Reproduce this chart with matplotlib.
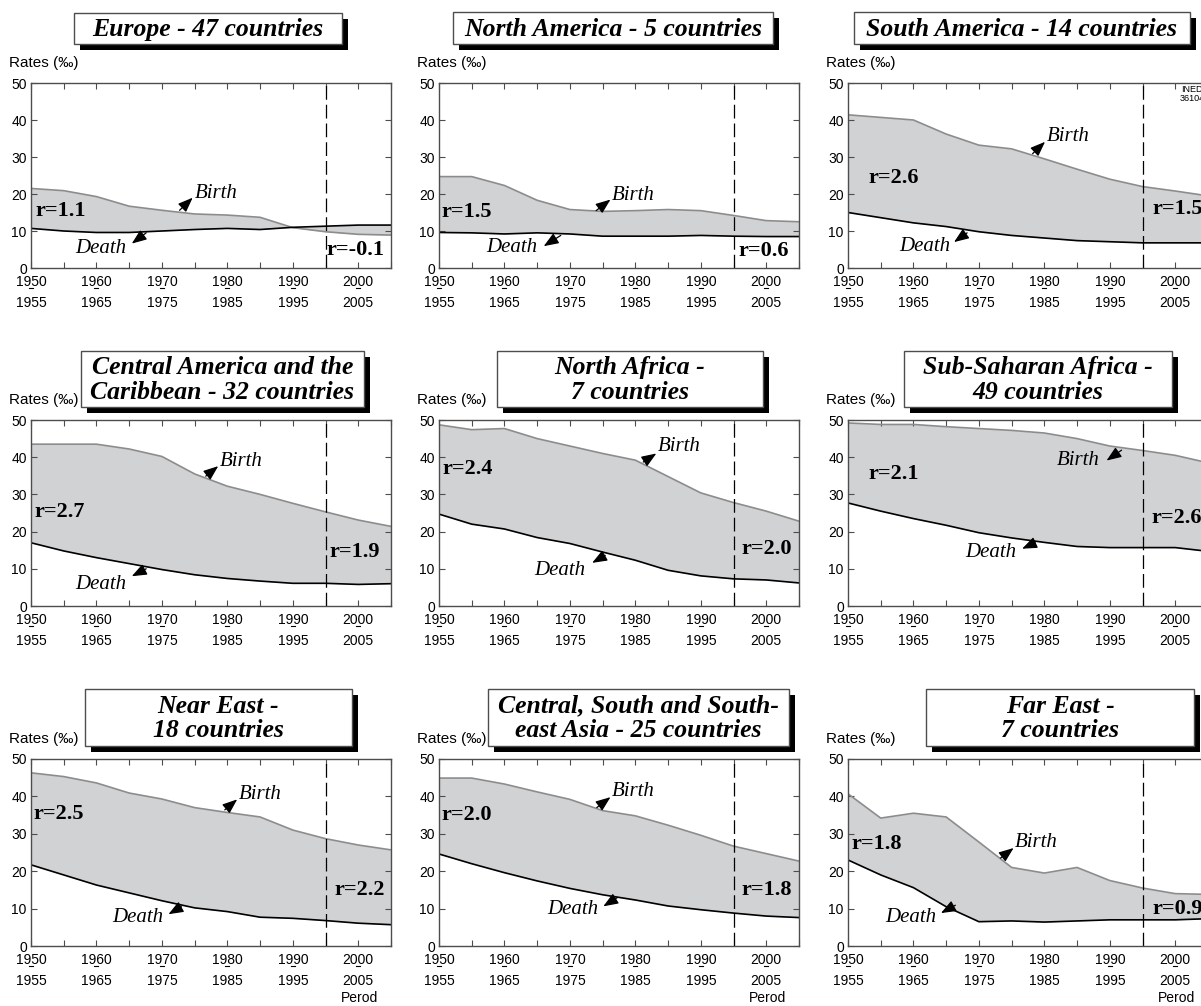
import matplotlib
matplotlib.use("Agg")
import matplotlib.pyplot as plt
from matplotlib.patches import Rectangle
from matplotlib.lines import Line2D

# 5-year periods, 1950-1955 ... 2005-2010 (first year shown on axis)
years = [1950, 1955, 1960, 1965, 1970, 1975, 1980, 1985, 1990, 1995, 2000, 2005]
tick_years = [1950, 1960, 1970, 1980, 1990, 2000]
tick_top = ["1950", "1960", "1970", "1980", "1990", "2000"]
tick_bottom = ["1955", "1965", "1975", "1985", "1995", "2005"]

europe_birth = [21.5, 20.9, 19.3, 16.7, 15.6, 14.6, 14.3, 13.7, 10.9, 9.8, 9.1, 8.9]
europe_death = [10.7, 10.0, 9.6, 9.6, 10.0, 10.4, 10.7, 10.4, 11.0, 11.3, 11.6, 11.6]

namerica_birth = [24.7, 24.7, 22.3, 18.3, 15.8, 15.3, 15.5, 15.8, 15.5, 14.2, 12.8, 12.5]
namerica_death = [9.6, 9.5, 9.2, 9.5, 9.2, 8.6, 8.6, 8.6, 8.8, 8.6, 8.5, 8.5]

samerica_birth = [41.4, 40.7, 40.0, 36.2, 33.2, 32.2, 29.5, 26.7, 24.0, 22.0, 20.8, 19.5]
samerica_death = [15.0, 13.6, 12.2, 11.2, 9.8, 8.8, 8.1, 7.4, 7.1, 6.8, 6.8, 6.8]

camerica_birth = [43.5, 43.5, 43.5, 42.2, 40.2, 35.5, 32.2, 30.0, 27.6, 25.3, 23.1, 21.4]
camerica_death = [17.0, 14.8, 13.0, 11.4, 9.8, 8.4, 7.4, 6.7, 6.1, 6.1, 5.8, 6.0]

nafrica_birth = [48.7, 47.4, 47.7, 45.0, 43.0, 41.0, 39.2, 34.8, 30.4, 27.8, 25.5, 22.8]
nafrica_death = [24.7, 22.0, 20.7, 18.4, 16.8, 14.5, 12.3, 9.6, 8.1, 7.3, 7.0, 6.2]

ssafrica_birth = [49.2, 48.8, 48.8, 48.2, 47.7, 47.2, 46.5, 45.0, 43.0, 41.8, 40.5, 38.5]
ssafrica_death = [27.7, 25.5, 23.5, 21.7, 19.7, 18.3, 17.1, 16.0, 15.7, 15.7, 15.7, 14.7]

neareast_birth = [46.3, 45.3, 43.6, 40.9, 39.3, 37.0, 35.7, 34.5, 31.0, 28.7, 27.0, 25.7]
neareast_death = [21.7, 19.0, 16.3, 14.2, 12.1, 10.2, 9.2, 7.7, 7.4, 6.8, 6.1, 5.7]

csasia_birth = [44.9, 44.9, 43.3, 41.2, 39.2, 36.2, 34.8, 32.3, 29.6, 26.7, 24.7, 22.7]
csasia_death = [24.6, 22.0, 19.6, 17.4, 15.4, 13.7, 12.3, 10.7, 9.7, 8.8, 8.0, 7.6]

fareast_birth = [40.7, 34.2, 35.5, 34.5, 27.8, 21.0, 19.5, 21.0, 17.5, 15.5, 14.0, 13.8]
fareast_death = [23.0, 19.0, 15.6, 10.5, 6.5, 6.7, 6.4, 6.7, 7.0, 7.0, 7.0, 7.3]

titles = ["Europe - 47 countries", "North America - 5 countries",
          "South America - 14 countries",
          "Central America and the\nCaribbean - 32 countries",
          "North Africa -\n7 countries", "Sub-Saharan Africa -\n49 countries",
          "Near East -\n18 countries",
          "Central, South and South-\neast Asia - 25 countries",
          "Far East -\n7 countries"]
r_before = ["r=1.1", "r=1.5", "r=2.6", "r=2.7", "r=2.4", "r=2.1", "r=2.5", "r=2.0", "r=1.8"]
r_after = ["r=-0.1", "r=0.6", "r=1.5", "r=1.9", "r=2.0", "r=2.6", "r=2.2", "r=1.8", "r=0.9"]

births = [europe_birth, namerica_birth, samerica_birth, camerica_birth, nafrica_birth,
          ssafrica_birth, neareast_birth, csasia_birth, fareast_birth]
deaths = [europe_death, namerica_death, samerica_death, camerica_death, nafrica_death,
          ssafrica_death, neareast_death, csasia_death, fareast_death]

# layout (pixels of the 1201x1006 image)
W, H = 1201, 1006
col_left = [31, 439, 848]
ax_w = 360
row_top_bottom = [(83, 268), (420, 606), (759, 946)]
title_boxes = [(74, 13, 342, 44), (453, 12, 773, 44), (854, 12, 1190, 44),
               (81, 351, 364, 407), (497, 351, 763, 407), (904, 351, 1172, 407),
               (85, 689, 352, 746), (488, 689, 789, 746), (926, 689, 1194, 746)]

# label placement in data coords: birth text, birth arrow head, birth arrow tail,
# death text (right aligned), death head, death tail, r-left pos, r-right pos
labels = [
    dict(bt=(1975.0, 20.2), bh=(1974.7, 19.0), btl=(1972.7, 15.6),
         dt=(1964.6, 5.2), dh=(1965.4, 6.6), dtl=(1967.6, 9.5), r1=(1950.7, 15.4), r2=(1995.2, 4.8)),
    dict(bt=(1976.4, 19.7), bh=(1976.2, 18.5), btl=(1974.0, 15.5),
         dt=(1965.1, 5.5), dh=(1966.0, 5.9), dtl=(1968.6, 8.8), r1=(1950.3, 15.1), r2=(1995.8, 4.6)),
    dict(bt=(1980.4, 35.6), bh=(1980.1, 34.1), btl=(1978.2, 30.9),
         dt=(1965.7, 5.9), dh=(1966.2, 7.0), dtl=(1968.2, 9.5), r1=(1953.2, 24.3), r2=(1996.5, 15.9)),
    dict(bt=(1978.9, 38.8), bh=(1978.6, 37.6), btl=(1976.7, 34.9),
         dt=(1964.6, 5.7), dh=(1965.4, 8.0), dtl=(1967.6, 10.0), r1=(1950.5, 25.2), r2=(1995.6, 14.5)),
    dict(bt=(1983.4, 43.0), bh=(1983.2, 41.0), btl=(1981.2, 38.7),
         dt=(1972.3, 9.6), dh=(1973.4, 11.6), dtl=(1975.4, 13.6), r1=(1950.6, 36.7), r2=(1996.2, 15.2)),
    dict(bt=(1988.5, 39.1), bh=(1989.5, 39.1), btl=(1991.8, 41.9), bright=True,
         dt=(1975.7, 14.3), dh=(1976.6, 15.4), dtl=(1978.6, 17.0), r1=(1953.2, 35.4), r2=(1996.3, 23.7)),
    dict(bt=(1981.8, 40.4), bh=(1981.5, 39.2), btl=(1979.6, 36.4),
         dt=(1970.2, 7.6), dh=(1971.0, 8.5), dtl=(1973.0, 10.5), r1=(1950.4, 35.3), r2=(1996.3, 15.0)),
    dict(bt=(1976.4, 41.4), bh=(1976.2, 39.8), btl=(1974.1, 37.0),
         dt=(1974.3, 9.7), dh=(1975.1, 10.6), dtl=(1977.3, 13.0), r1=(1950.3, 34.9), r2=(1996.2, 14.9)),
    dict(bt=(1975.5, 27.7), bh=(1975.3, 26.2), btl=(1973.3, 23.5),
         dt=(1963.5, 7.7), dh=(1964.2, 8.8), dtl=(1966.4, 10.9), r1=(1950.5, 27.4), r2=(1996.5, 9.9)),
]

sans = ["Liberation Sans", "DejaVu Sans"]
serif = ["Liberation Serif", "DejaVu Serif"]
frame_col = "#4d4d4d"
fill_col = "#d1d2d4"
birth_col = "#8c8c8c"

fig = plt.figure(figsize=(W / 100, H / 100), dpi=100)


def fx(px):
    return px / W


def fy(py):
    return 1 - py / H


def arrow(ax, head, tail):
    ax.annotate("", xy=head, xytext=tail,
                arrowprops=dict(arrowstyle="-|>,head_length=0.9,head_width=0.35",
                                color="black", lw=0.9, shrinkA=0, shrinkB=0,
                                mutation_scale=10))


for i in range(9):
    row, col = divmod(i, 3)
    top, bottom = row_top_bottom[row]
    left = col_left[col]
    ax_h = bottom - top
    ax = fig.add_axes([fx(left), fy(bottom), ax_w / W, ax_h / H])

    ax.fill_between(years, deaths[i], births[i], color=fill_col, lw=0)
    ax.plot(years, births[i], color=birth_col, lw=1.2)
    ax.plot(years, deaths[i], color="black", lw=1.2)
    ax.axvline(1995, color="black", lw=0.9, dashes=(11, 4))

    ax.set_xlim(1950, 2005)
    ax.set_ylim(0, 50)
    ax.set_xticks(years)
    ax.set_xticklabels([tick_top[tick_years.index(y)] if y in tick_years else "" for y in years])
    ax.set_yticks([0, 10, 20, 30, 40, 50])
    ax.tick_params(direction="in", length=4, width=0.8, color=frame_col,
                   top=True, right=True, labelsize=10, pad=3)
    ax.tick_params(axis="x", pad=5)
    for lab in ax.get_xticklabels() + ax.get_yticklabels():
        lab.set_family(sans)
    for sp in ax.spines.values():
        sp.set_color(frame_col)
        sp.set_linewidth(1.0)

    # second line of the period labels, with a small dash in between
    dash_y = -19.5 / ax_h
    for ty, tb in zip(tick_years, tick_bottom):
        ax.add_line(Line2D([ty - 0.3, ty + 0.3], [dash_y, dash_y],
                           transform=ax.get_xaxis_transform(), color="black",
                           lw=0.8, clip_on=False))
        ax.annotate(tb, xy=(ty, 0), xycoords=("data", "axes fraction"),
                    xytext=(0, -20), textcoords="offset points",
                    ha="center", va="top", fontsize=10, family=sans)

    lb = labels[i]
    ax.text(lb["bt"][0], lb["bt"][1], "Birth", ha="right" if lb.get("bright") else "left",
            va="center", fontsize=15, style="italic", family=serif)
    arrow(ax, lb["bh"], lb["btl"])
    ax.text(lb["dt"][0], lb["dt"][1], "Death", ha="right", va="center",
            fontsize=15, style="italic", family=serif)
    arrow(ax, lb["dh"], lb["dtl"])
    ax.text(lb["r1"][0], lb["r1"][1], r_before[i], ha="left", va="center",
            fontsize=16, weight="bold", family=serif)
    ax.text(lb["r2"][0], lb["r2"][1], r_after[i], ha="left", va="center",
            fontsize=16, weight="bold", family=serif, clip_on=False)

    fig.text(fx(left - 22), fy(top - 20), "Rates (\u2030)", ha="left", va="center",
             fontsize=11, family=sans)
    if row == 2:
        fig.text(fx(left + ax_w - 13), fy(998), "Perod", ha="right", va="center",
                 fontsize=10, family=sans)

    # title box with drop shadow
    x0, y0, x1, y1 = title_boxes[i]
    fig.add_artist(Rectangle((fx(x0 + 6), fy(y1 + 6)), (x1 - x0) / W, (y1 - y0) / H,
                             transform=fig.transFigure, facecolor="black",
                             edgecolor="none"))
    fig.add_artist(Rectangle((fx(x0), fy(y1)), (x1 - x0) / W, (y1 - y0) / H,
                             transform=fig.transFigure, facecolor="white",
                             edgecolor=frame_col, lw=1.0))
    fig.text(fx((x0 + x1) / 2), fy((y0 + y1) / 2 + 1), titles[i], ha="center", va="center",
             fontsize=18.5, weight="bold", style="italic", family=serif,
             linespacing=1.1)

fig.text(fx(1192), fy(94), "INED\n36104", ha="center", va="center",
         fontsize=6.5, family=sans, linespacing=1.0)

fig.savefig("out.png", dpi=100)
